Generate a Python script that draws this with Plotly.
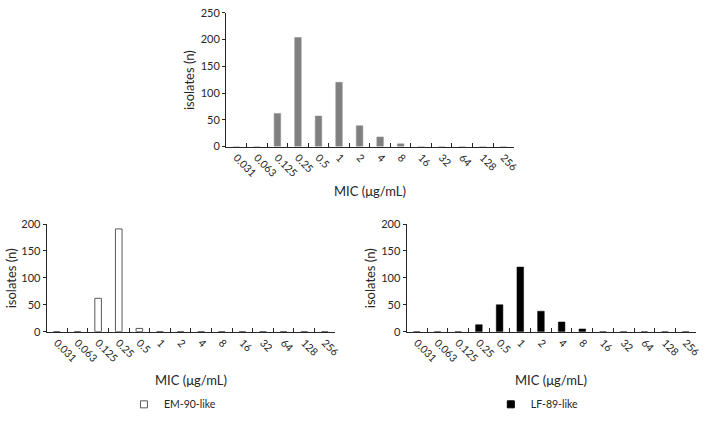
import plotly.graph_objects as go

categories = ["0.031", "0.063", "0.125", "0.25", "0.5", "1", "2", "4", "8",
              "16", "32", "64", "128", "256"]
total_counts = [0, 0, 62, 204, 57, 120, 39, 18, 5, 0, 0, 0, 0, 0]
em90_counts = [0, 0, 62, 191, 6, 0, 0, 0, 0, 0, 0, 0, 0, 0]
lf89_counts = [0, 0, 0, 13, 50, 120, 38, 18, 5, 0, 0, 0, 0, 0]

x_title = "MIC (μg/mL)"
y_title = "isolates (n)"
em90_name = "EM-90-like"
lf89_name = "LF-89-like"

FONT = "Lato, 'Open Sans', sans-serif"
TXT = "#262626"
LINE = "#262626"
W, H = 708, 421

fig = go.Figure()

fig.add_trace(go.Bar(x=categories, y=total_counts, xaxis="x", yaxis="y",
                     width=0.32, marker=dict(color="#808080", line=dict(color="#8c8c8c", width=0.5)),
                     showlegend=False, name="all"))
fig.add_trace(go.Bar(x=categories, y=em90_counts, xaxis="x2", yaxis="y2",
                     width=0.32, marker=dict(color="white", line=dict(color="#595959", width=1)),
                     name=em90_name, showlegend=False))
fig.add_trace(go.Bar(x=categories, y=lf89_counts, xaxis="x3", yaxis="y3",
                     width=0.32, marker=dict(color="black", line=dict(color="black", width=0.5)),
                     name=lf89_name, showlegend=False))

# legend entries (small square swatches like the reference)
fig.add_trace(go.Scatter(x=[None], y=[None], mode="markers", xaxis="x2", yaxis="y2",
                         marker=dict(symbol="square", size=7, color="white",
                                     line=dict(color="#595959", width=1)),
                         name=em90_name, legend="legend"))
fig.add_trace(go.Scatter(x=[None], y=[None], mode="markers", xaxis="x3", yaxis="y3",
                         marker=dict(symbol="square", size=7, color="black",
                                     line=dict(color="black", width=1)),
                         name=lf89_name, legend="legend2"))

def xax(domain, anchor):
    return dict(domain=domain, anchor=anchor, type="category",
                categoryorder="array", categoryarray=categories,
                range=[-0.5, len(categories) - 0.5],
                showline=True, linecolor=LINE, linewidth=1,
                ticks="inside", tickson="boundaries", ticklen=4, tickcolor=LINE,
                tickangle=45, showgrid=False, zeroline=False,
                tickfont=dict(family=FONT, size=10.5, color=TXT))

def yax(domain, anchor, top):
    return dict(domain=domain, anchor=anchor, range=[0, top], dtick=50,
                showline=True, linecolor=LINE, linewidth=1,
                ticks="outside", ticklen=3, tickcolor=LINE,
                showgrid=False, zeroline=False,
                tickfont=dict(family=FONT, size=11, color=TXT))

top_y = [1 - 144 / H, 1 - 6 / H]
bot_y = [1 - 335 / H, 1 - 224 / H]

fig.update_layout(
    width=W, height=H,
    margin=dict(l=0, r=0, t=0, b=0),
    paper_bgcolor="white", plot_bgcolor="white",
    font=dict(family=FONT, color=TXT),
    xaxis=xax([228 / W, 518 / W], "y"),
    yaxis=yax(top_y, "x", 250),
    xaxis2=xax([47 / W, 338 / W], "y2"),
    yaxis2=yax(bot_y, "x2", 200),
    xaxis3=xax([410 / W, 702 / W], "y3"),
    yaxis3=yax(bot_y, "x3", 200),
    legend=dict(x=125 / W, y=1 - 410 / H, xanchor="left", yanchor="middle",
                itemwidth=30, font=dict(family=FONT, size=10.5, color=TXT),
                bgcolor="rgba(0,0,0,0)"),
    legend2=dict(x=495 / W, y=1 - 410 / H, xanchor="left", yanchor="middle",
                 itemwidth=30, font=dict(family=FONT, size=10.5, color=TXT),
                 bgcolor="rgba(0,0,0,0)"),
)

def ann(x, y, text, angle=0):
    fig.add_annotation(x=x / W, y=1 - y / H, xref="paper", yref="paper",
                       text=text, showarrow=False, textangle=angle,
                       xanchor="center", yanchor="middle",
                       font=dict(family=FONT, size=13, color=TXT))

ann(373, 190, x_title)
ann(192.5, 385, x_title)
ann(556, 385, x_title)
ann(190, 75, y_title, -90)
ann(11, 280, y_title, -90)
ann(374, 280, y_title, -90)

fig.write_html("out.html",
               config={"displayModeBar": False},
               post_script="document.body.style.margin='0';document.body.style.overflow='hidden';")
